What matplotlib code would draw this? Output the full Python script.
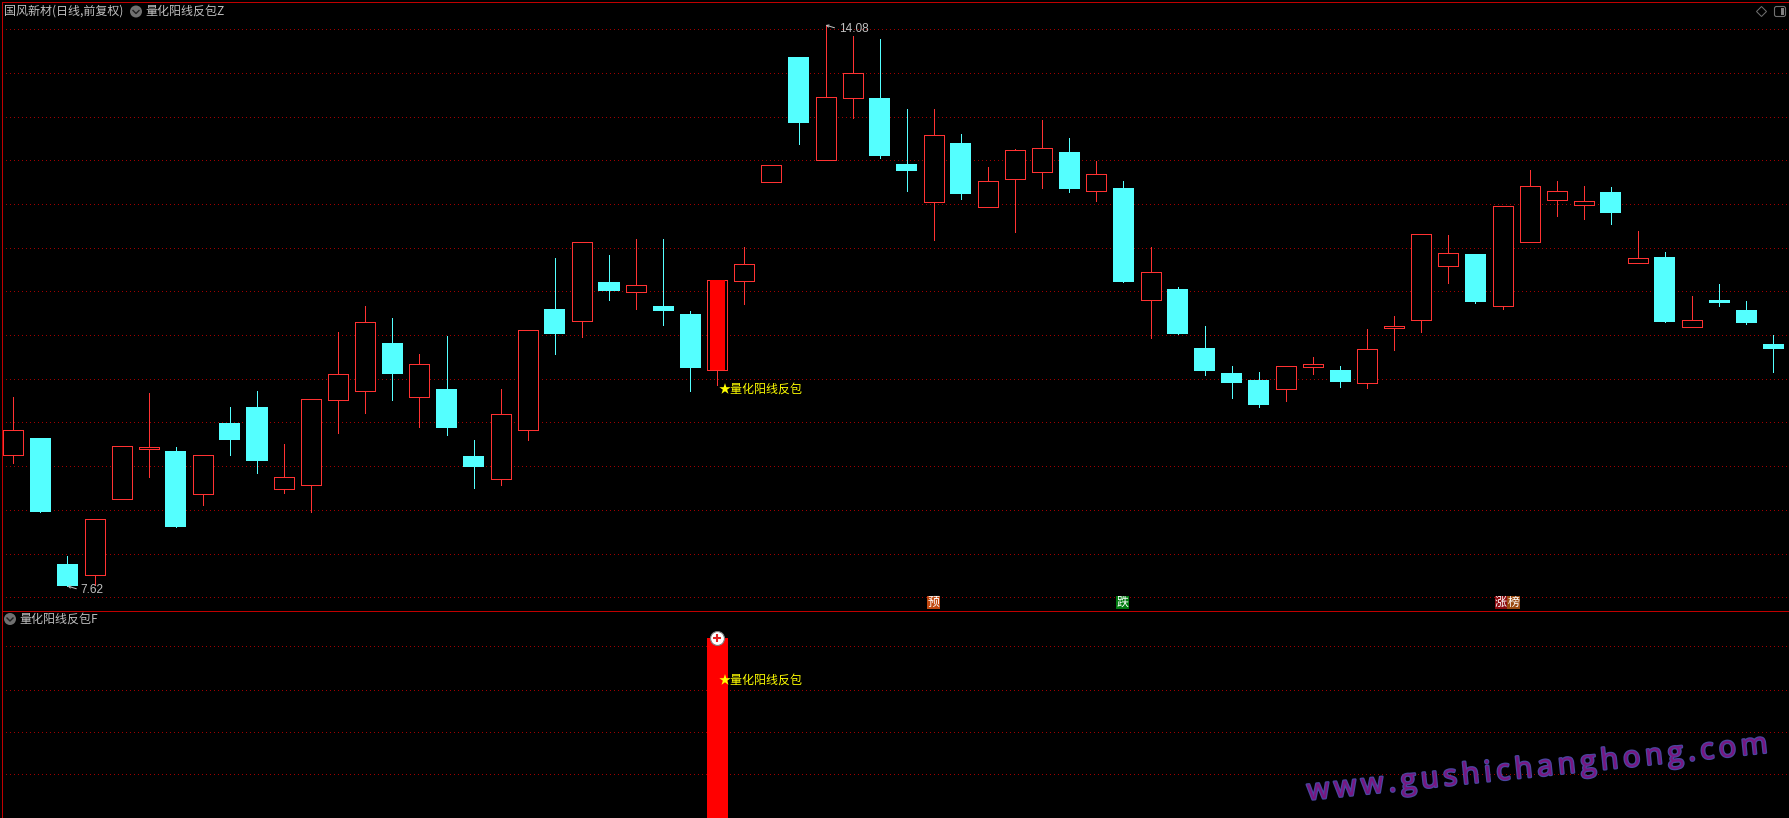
"""Daily candlestick chart with the 量化阳线反包 signal panel below it."""
import matplotlib
matplotlib.use("Agg")
import matplotlib.pyplot as plt
import matplotlib.patheffects as pe
from matplotlib.patches import Circle, Polygon, Rectangle, FancyBboxPatch

W, H = 1789, 818
CJK = ["Noto Sans CJK SC", "DejaVu Sans"]

opens = [9.132, 9.324, 7.873, 7.750, 8.625, 9.201, 9.175, 8.683, 9.497, 9.681, 8.740,
         8.786, 9.765, 9.869, 10.418, 9.800, 9.888, 9.117, 8.856, 9.420, 10.810, 10.675,
         11.121, 11.009, 10.844, 10.752, 10.111, 11.136, 12.276, 13.711, 12.529, 13.243,
         13.239, 12.479, 12.045, 12.721, 11.988, 12.310, 12.391, 12.618, 12.172, 12.203,
         10.917, 11.040, 10.361, 10.073, 9.992, 9.892, 10.145, 10.107, 9.961, 10.593,
         10.686, 11.308, 11.443, 10.848, 11.585, 12.068, 12.011, 12.157, 11.343, 11.408,
         10.606, 10.913, 10.798, 10.407]
highs = [9.796, 9.324, 7.965, 8.388, 9.229, 9.842, 9.221, 9.125, 9.681, 9.865, 9.255,
         9.770, 10.545, 10.844, 10.706, 10.291, 10.499, 9.301, 9.888, 10.564, 11.397, 11.578,
         11.431, 11.616, 11.616, 10.787, 11.140, 11.524, 12.464, 13.711, 14.08, 13.953,
         13.919, 13.113, 13.113, 12.825, 12.445, 12.652, 12.986, 12.779, 12.514, 12.284,
         11.524, 11.063, 10.614, 10.153, 10.084, 10.150, 10.257, 10.153, 10.579, 10.729,
         11.670, 11.662, 11.443, 11.992, 12.410, 12.284, 12.226, 12.215, 11.708, 11.466,
         10.959, 11.098, 10.902, 10.510]
lows = [9.040, 8.472, 7.62, 7.637, 8.625, 8.875, 8.299, 8.553, 9.128, 8.921, 8.691,
        8.472, 9.382, 9.612, 9.762, 9.451, 9.359, 8.748, 8.783, 9.301, 10.291, 10.487,
        10.913, 10.810, 10.625, 9.865, 9.935, 10.867, 12.276, 12.710, 12.529, 13.009,
        12.548, 12.168, 11.604, 12.076, 11.988, 11.696, 12.203, 12.157, 12.053, 11.121,
        10.476, 10.522, 10.050, 9.785, 9.681, 9.750, 10.061, 9.911, 9.900, 10.338,
        10.545, 11.109, 10.879, 10.810, 11.585, 11.881, 11.846, 11.788, 11.343, 10.660,
        10.606, 10.844, 10.637, 10.084]
closes = [9.413, 8.472, 7.62, 8.388, 9.229, 9.221, 8.299, 9.125, 9.301, 9.059, 8.872,
          9.770, 10.058, 10.656, 10.061, 10.173, 9.439, 8.990, 9.597, 10.564, 10.522, 11.578,
          11.017, 11.083, 10.787, 10.130, 11.140, 11.324, 12.464, 12.951, 13.247, 13.524,
          12.571, 12.399, 12.810, 12.134, 12.280, 12.637, 12.660, 12.191, 12.361, 11.121,
          11.232, 10.522, 10.096, 9.958, 9.704, 10.150, 10.173, 9.969, 10.346, 10.612,
          11.670, 11.451, 10.890, 11.992, 12.223, 12.165, 12.050, 11.915, 11.393, 10.660,
          10.680, 10.879, 10.648, 10.349]

price_grid = [14.030, 13.527, 13.024, 12.521, 12.018, 11.515, 11.012,
              10.509, 10.006, 9.503, 9.000, 8.497, 7.994, 7.491]
signal_grid = [0.954, 0.714, 0.478, 0.242]
signal_index = [26]
signal_value = [1.0]

SIGNAL_NAME = "量化阳线反包"
WATERMARK = "www.gushichanghong.com"

UP = "#ff3232"
DOWN = "#54ffff"
BORDER = "#c00000"
GRID = "#a00000"
TEXT = "#c0c0c0"
PX = 0.72  # one pixel at dpi 100


def axes_box(left, top, right, bottom):
    # pixel box -> figure fraction
    return [left / W, 1 - bottom / H, (right - left) / W, (bottom - top) / H]


def style_axes(ax, levels):
    ax.set_facecolor("black")
    ax.set_xlim(-0.436, 65.58)
    ax.set_xticks([])
    ax.set_yticks(levels)
    ax.tick_params(length=0, labelleft=False)
    ax.grid(axis="y", color=GRID, lw=PX, linestyle=(0, (1, 4)), antialiased=False)
    ax.set_axisbelow(True)
    for name, spine in ax.spines.items():
        spine.set_color(BORDER)
        spine.set_linewidth(PX)


def draw_candles(ax):
    xs = list(range(len(opens)))
    for i in xs:
        up = closes[i] >= opens[i]
        col = UP if up else DOWN
        ax.vlines(i, lows[i], highs[i], color=col, lw=PX, zorder=2, antialiased=False)
        low_edge = min(opens[i], closes[i])
        height = abs(closes[i] - opens[i])
        if up:
            ax.bar(i, height, bottom=low_edge, width=0.739, facecolor="black",
                   edgecolor=col, linewidth=PX, zorder=3, antialiased=False)
        else:
            ax.bar(i, height, bottom=low_edge, width=0.776, color=col,
                   linewidth=0, zorder=3, antialiased=False)
    # the signal candle gets a solid core
    for i in signal_index:
        ax.bar(i + 0.01, closes[i] - opens[i], bottom=opens[i], width=0.565,
               color="#ff0000", linewidth=0, zorder=4, antialiased=False)


def label_extreme(ax, i, price, text, dx, dy):
    ax.annotate(text, xy=(i, price), xytext=(dx, dy), textcoords="offset pixels",
                color=TEXT, fontsize=8.6, family="Liberation Sans", va="center", ha="left",
                zorder=6,
                arrowprops=dict(arrowstyle="->", color=TEXT, lw=PX, mutation_scale=4,
                                shrinkA=1, shrinkB=0, relpos=(0, 0.5)))


def signal_label(ax, y, dy):
    ax.annotate("★" + SIGNAL_NAME, xy=(signal_index[0], y), xytext=(1, dy),
                textcoords="offset pixels", color="#ffff00", fontsize=8.64,
                family=CJK, va="center", ha="left", zorder=6)


def menu_icon(ov, cx, cy):
    ov.add_patch(Circle((cx, cy), 6, facecolor="#707070", edgecolor="none"))
    ov.plot([cx - 3, cx, cx + 3], [cy - 1, cy + 2, cy - 1], color="#202020", lw=1)


def tag(ov, x0, x1, color, ch):
    ov.add_patch(Rectangle((x0, 596), x1 - x0, 13, facecolor=color, edgecolor="none"))
    ov.text((x0 + x1) / 2, 602.5, ch, color="white", fontsize=8.64, family=CJK,
            ha="center", va="center")


fig = plt.figure(figsize=(W / 100, H / 100), dpi=100, facecolor="black")

ax = fig.add_axes(axes_box(1.5, 1.5, W, 610.5))
style_axes(ax, price_grid)
ax.set_ylim(7.338, 14.351)
ax.spines["right"].set_visible(False)
draw_candles(ax)

ax2 = fig.add_axes(axes_box(1.5, 610.5, W, H))
style_axes(ax2, signal_grid)
ax2.set_ylim(0, 1.153)
ax2.spines["right"].set_visible(False)
ax2.spines["bottom"].set_visible(False)
ax2.bar(signal_index, signal_value, width=0.776, color="#ff0000", linewidth=0,
        zorder=3, antialiased=False)
ax2.scatter(signal_index, signal_value, s=100, facecolor="white", edgecolor="#808080",
            linewidth=0.8, zorder=5)
ax2.scatter(signal_index, signal_value, s=36, marker="+", color="#e02020",
            linewidth=1.5, zorder=6)

signal_label(ax, lows[26], -4)
signal_label(ax2, signal_value[0], -42)

imin = lows.index(min(lows))
imax = highs.index(max(highs))
label_extreme(ax, imin, lows[imin], f"{lows[imin]:.2f}", 13, -4)
label_extreme(ax, imax, highs[imax], f"{highs[imax]:.2f}", 13, -4)

# chrome drawn in pixel coordinates
ov = fig.add_axes([0, 0, 1, 1], zorder=10)
ov.set_xlim(0, W)
ov.set_ylim(H, 0)
ov.axis("off")

ov.text(4, 11.5, "国风新材(日线,前复权)", color=TEXT, fontsize=8.64, family=CJK, va="center")
menu_icon(ov, 136, 11.5)
ov.text(145, 11.5, SIGNAL_NAME + "Z", color=TEXT, fontsize=8.64, family=CJK, va="center")
menu_icon(ov, 10, 619)
ov.text(19, 619, SIGNAL_NAME + "F", color=TEXT, fontsize=8.64, family=CJK, va="center")

ov.add_patch(Polygon([(1756.5, 11.5), (1761.5, 6.5), (1766.5, 11.5), (1761.5, 16.5)],
                     closed=True, fill=False, edgecolor="#707070", lw=PX))
ov.add_patch(FancyBboxPatch((1775, 7), 10, 9, boxstyle="round,pad=0.5,rounding_size=2",
                            fill=False, edgecolor="#707070", lw=0.8))
ov.add_patch(Rectangle((1781, 8), 3, 7, facecolor="#808080", edgecolor="none"))

tag(ov, 927, 940, "#c04810", "预")
tag(ov, 1116, 1129, "#007a10", "跌")
tag(ov, 1495, 1507, "#8b0a10", "涨")
tag(ov, 1507, 1520, "#9a4a10", "榜")

ov.text(1308, 800, "\u2009".join(WATERMARK), color="#7a1580", fontsize=20.8,
        family=["Open Sans", "DejaVu Sans"],
        rotation=5.9, rotation_mode="anchor", ha="left", va="baseline",
        path_effects=[pe.withStroke(linewidth=1.8, foreground="#4a46a0")])

fig.savefig("out.png", dpi=100, facecolor="black")
plt.close(fig)
